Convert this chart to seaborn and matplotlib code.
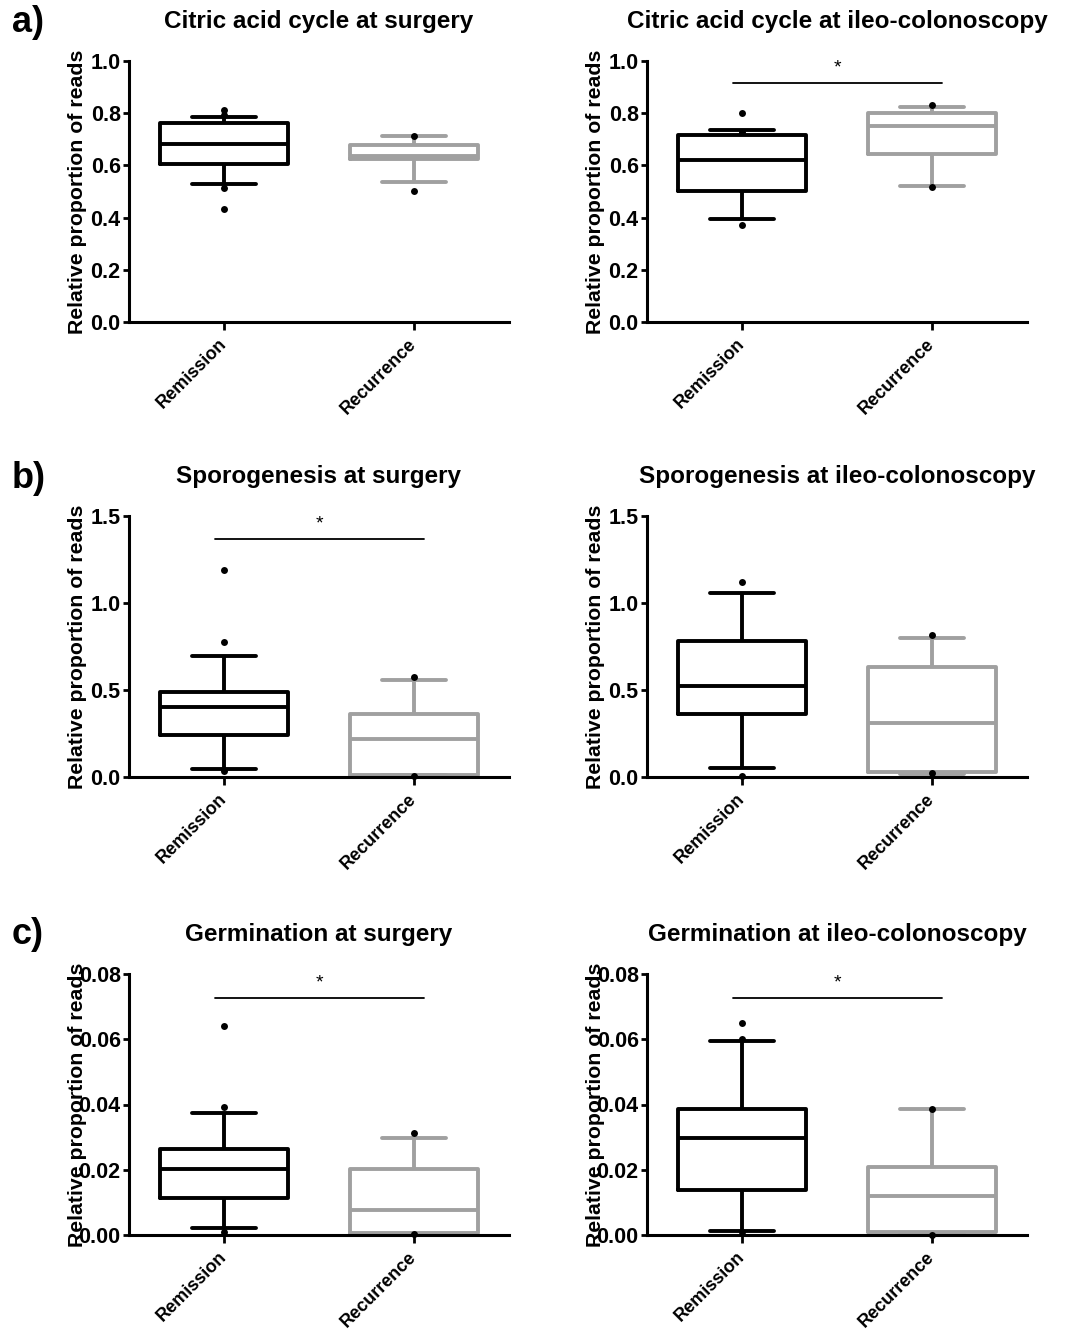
import numpy as np
import pandas as pd
import matplotlib.pyplot as plt
import seaborn as sns

sns.set_style("ticks")
plt.rcParams['font.family'] = ['Liberation Sans', 'DejaVu Sans']
plt.rcParams['font.weight'] = 'bold'
plt.rcParams['axes.labelweight'] = 'bold'
plt.rcParams['axes.titleweight'] = 'bold'
for k in ['text.color', 'axes.labelcolor', 'xtick.color', 'ytick.color', 'axes.edgecolor']:
    plt.rcParams[k] = 'black'

grupos = ["Remission", "Recurrence"]
colores = {"Remission": "#000000", "Recurrence": "#a0a0a0"}

### Cajas: bigote inferior, Q1, mediana, Q3, bigote superior
citric_surg_rem = [0.529, 0.606, 0.683, 0.762, 0.786]
citric_surg_rec = [0.535, 0.626, 0.636, 0.680, 0.712]
citric_surg_rem_pts = [0.814, 0.792, 0.513, 0.433]
citric_surg_rec_pts = [0.711, 0.501]

citric_ileo_rem = [0.393, 0.503, 0.620, 0.716, 0.735]
citric_ileo_rec = [0.522, 0.643, 0.751, 0.799, 0.825]
citric_ileo_rem_pts = [0.802, 0.729, 0.373]
citric_ileo_rec_pts = [0.831, 0.518]

sporo_surg_rem = [0.048, 0.239, 0.401, 0.487, 0.697]
sporo_surg_rec = [0.010, 0.012, 0.216, 0.363, 0.560]
sporo_surg_rem_pts = [1.190, 0.774, 0.032]
sporo_surg_rec_pts = [0.573, 0.004]

sporo_ileo_rem = [0.050, 0.360, 0.523, 0.783, 1.056]
sporo_ileo_rec = [0.017, 0.030, 0.309, 0.630, 0.800]
sporo_ileo_rem_pts = [1.122, 0.006]
sporo_ileo_rec_pts = [0.816, 0.021]

germ_surg_rem = [0.0021, 0.0113, 0.0202, 0.0265, 0.0373]
germ_surg_rec = [0.0003, 0.0005, 0.0076, 0.0202, 0.0296]
germ_surg_rem_pts = [0.0642, 0.0392, 0.0008]
germ_surg_rec_pts = [0.0312, 0.0002]

germ_ileo_rem = [0.0013, 0.0138, 0.0297, 0.0385, 0.0596]
germ_ileo_rec = [0.0003, 0.0008, 0.0121, 0.0207, 0.0387]
germ_ileo_rem_pts = [0.0651, 0.0600, 0.0008]
germ_ileo_rec_pts = [0.0387, 0.0000]

titulos = ["Citric acid cycle at surgery", "Citric acid cycle at ileo-colonoscopy",
           "Sporogenesis at surgery", "Sporogenesis at ileo-colonoscopy",
           "Germination at surgery", "Germination at ileo-colonoscopy"]
ylims = [1.0, 1.0, 1.5, 1.5, 0.08, 0.08]
yticks = [[0, 0.2, 0.4, 0.6, 0.8, 1.0], [0, 0.2, 0.4, 0.6, 0.8, 1.0],
          [0, 0.5, 1.0, 1.5], [0, 0.5, 1.0, 1.5],
          [0, 0.02, 0.04, 0.06, 0.08], [0, 0.02, 0.04, 0.06, 0.08]]
yfmt = ["%.1f", "%.1f", "%.1f", "%.1f", "%.2f", "%.2f"]
# nivel de la barra de significancia (None = sin barra)
signif = [None, 0.916, 1.368, None, 0.0726, 0.0726]

cajas = [(citric_surg_rem, citric_surg_rec), (citric_ileo_rem, citric_ileo_rec),
         (sporo_surg_rem, sporo_surg_rec), (sporo_ileo_rem, sporo_ileo_rec),
         (germ_surg_rem, germ_surg_rec), (germ_ileo_rem, germ_ileo_rec)]
puntos = [(citric_surg_rem_pts, citric_surg_rec_pts), (citric_ileo_rem_pts, citric_ileo_rec_pts),
          (sporo_surg_rem_pts, sporo_surg_rec_pts), (sporo_ileo_rem_pts, sporo_ileo_rec_pts),
          (germ_surg_rem_pts, germ_surg_rec_pts), (germ_ileo_rem_pts, germ_ileo_rec_pts)]

W, H = 1079, 1332
fig = plt.figure(figsize=(W / 100, H / 100), dpi=100)

col_x = [(129, 509), (647, 1027)]
fila_top = [61, 516, 974]
alto = 261

for i in range(6):
    fila, col = i // 2, i % 2
    x0, x1 = col_x[col]
    top = fila_top[fila]
    ax = fig.add_axes([x0 / W, 1 - (top + alto) / H, (x1 - x0) / W, alto / H])

    rem, rec = cajas[i]
    df = pd.DataFrame({"grupo": ["Remission"] * len(rem) + ["Recurrence"] * len(rec),
                       "valor": rem + rec})
    sns.boxplot(data=df, x="grupo", y="valor", hue="grupo", order=grupos, palette=colores,
                fill=False, whis=(0, 100), showfliers=False, width=0.67, linewidth=2.8,
                legend=False, ax=ax)

    prem, prec = puntos[i]
    dfp = pd.DataFrame({"grupo": ["Remission"] * len(prem) + ["Recurrence"] * len(prec),
                        "valor": prem + prec})
    sns.stripplot(data=dfp, x="grupo", y="valor", order=grupos, color="black", jitter=False,
                  size=5, ax=ax, zorder=5)
    for c in ax.collections:
        c.set_clip_on(False)

    ax.set_xlim(-0.5, 1.5)
    ax.set_ylim(0, ylims[i])
    ax.set_yticks(yticks[i])
    ax.set_yticklabels([yfmt[i] % v for v in yticks[i]])
    ax.set_xticks([0, 1])
    ax.set_xticklabels(grupos, rotation=45, ha="right", va="center", rotation_mode="anchor")
    ax.tick_params(axis="y", length=4.5, width=2, labelsize=15.5, pad=1.5)
    ax.tick_params(axis="x", length=6, width=2, labelsize=13, pad=8)
    for s in ["left", "bottom"]:
        ax.spines[s].set_linewidth(2.2)
    sns.despine(ax=ax)

    ax.set_xlabel("")
    ax.set_ylabel("Relative proportion of reads", fontsize=15.3)
    ax.yaxis.set_label_coords(-42 / (x1 - x0), 0.5)
    ax.set_title(titulos[i], fontsize=17.5, pad=24)

    if signif[i] is not None:
        y = signif[i]
        ax.plot([-0.05, 1.05], [y, y], color="black", lw=1.3, clip_on=False)
        ax.text(0.5, y + ylims[i] * 0.058, "*", ha="center", va="center",
                fontsize=14, fontweight="normal")

fig.text(0.011, 1 - 22 / H, "a)", fontsize=26, va="center", ha="left")
fig.text(0.011, 1 - 478 / H, "b)", fontsize=26, va="center", ha="left")
fig.text(0.011, 1 - 934 / H, "c)", fontsize=26, va="center", ha="left")

fig.savefig("out.png", dpi=100)
